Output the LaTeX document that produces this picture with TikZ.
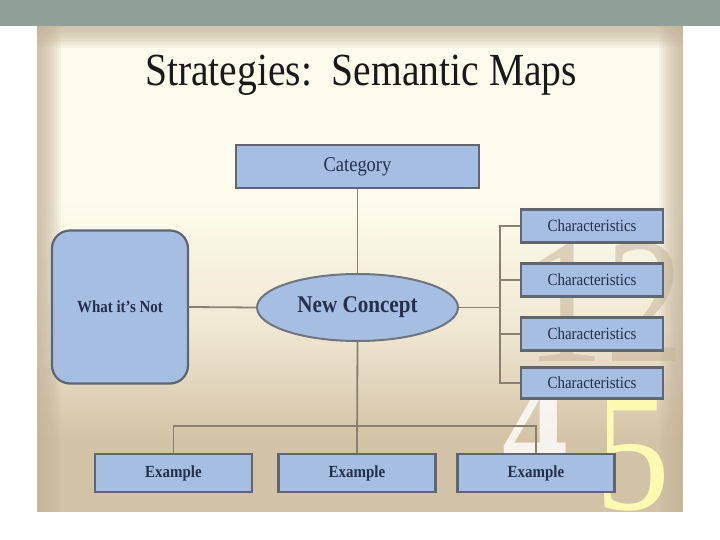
\documentclass[tikz,border=0pt]{standalone}
\usepackage{fontspec}
\setmainfont{Liberation Serif}
\usetikzlibrary{shapes.geometric,calc}
\definecolor{band}{HTML}{8FA096}
\definecolor{cream}{HTML}{FDFCEC}
\definecolor{midbeige}{HTML}{EFE7D2}
\definecolor{tan}{HTML}{D3C3A6}
\definecolor{edgetan}{HTML}{C4B49A}
\definecolor{boxfill}{HTML}{A6BEE2}
\definecolor{boxline}{HTML}{5F6670}
\definecolor{txt}{HTML}{24304C}
\definecolor{conn}{HTML}{8A8070}
\newcommand{\tx}[2]{\scalebox{0.88}[1]{\fontsize{#1}{#1}\selectfont #2}}
\tikzset{
  boxst/.style={rectangle, draw=boxline, line width=2.2pt, fill=boxfill, text=txt, inner sep=0pt},
  connst/.style={draw=conn, line width=1.8pt}
}
\begin{document}
\begin{tikzpicture}[x=1pt,y=-1pt]
\useasboundingbox (0,0) rectangle (720,540);
\fill[white] (0,0) rectangle (720,540);
\fill[band] (0,0) rectangle (720,26);
% panel
\fill[cream] (37,26) rectangle (683,200);
\shade[top color=cream, bottom color=midbeige] (37,199.5) rectangle (683,330);
\shade[top color=midbeige, bottom color=tan] (37,329.5) rectangle (683,440);
\fill[tan] (37,439.5) rectangle (683,512);
% edge vignettes
\foreach \i in {0,...,11}{
  \fill[edgetan, opacity=0.11] (37,26) rectangle ({37+2*\i+2},512);
  \fill[edgetan, opacity=0.11] ({683-2*\i-2},26) rectangle (683,512);
  \fill[edgetan, opacity=0.10] (37,26) rectangle (683,{26+1.8*\i+2});
}
% background numerals
\begin{scope}
\clip (37,26) rectangle (683,512);
\node[text=edgetan, opacity=0.55, anchor=center] (d12) at (605,302) {\tx{180}{12}};
\node[text=white, opacity=0.8, anchor=center] (d4) at (535,428) {\tx{150}{\bfseries 4}};
\node[text=yellow!25!cream, anchor=center] (d5) at (633,455) {\tx{170}{5}};
\end{scope}
% title
\node[text=black!90] (title) at (361,75) {\scalebox{0.86}[1]{\fontsize{46}{46}\selectfont Strategies:\ \ Semantic Maps}};
% nodes
\node[boxst, minimum width=243pt, minimum height=43pt] (cat) at (357.5,166.5) {\tx{21}{Category}};
\node[ellipse, draw=boxline!90, line width=2pt, fill=boxfill, text=txt, minimum width=201pt, minimum height=67pt, inner sep=0pt] (nc) at (357.5,307.5) {\tx{24}{\bfseries New Concept}};
\node[boxst, rounded corners=18pt, minimum width=136pt, minimum height=153pt] (not) at (120,307) {\tx{17}{\bfseries What it's Not}};
\node[boxst, minimum width=142pt, minimum height=33pt] (ch1) at (592,226) {\tx{17}{Characteristics}};
\node[boxst, minimum width=142pt, minimum height=33pt] (ch2) at (592,280) {\tx{17}{Characteristics}};
\node[boxst, minimum width=142pt, minimum height=33pt] (ch3) at (592,334) {\tx{17}{Characteristics}};
\node[boxst, minimum width=142pt, minimum height=31pt] (ch4) at (592,383) {\tx{17}{Characteristics}};
\node[boxst, minimum width=157pt, minimum height=38pt] (ex1) at (173.5,473) {\tx{17}{\bfseries Example}};
\node[boxst, minimum width=157pt, minimum height=38pt] (ex2) at (357,473) {\tx{17}{\bfseries Example}};
\node[boxst, minimum width=157pt, minimum height=38pt] (ex3) at (536,473) {\tx{17}{\bfseries Example}};
% connectors
\coordinate (hub) at (500,307.5);
\coordinate (bus) at (357,426);
\draw[connst] (cat.south) -- (nc.north);
\draw[connst] (not.east) -- (nc.west);
\draw[connst] (nc.east) -- (hub);
\foreach \k in {1,2,3,4}{ \draw[connst] (hub) |- (ch\k.west); }
\draw[connst] (nc.south) -- (ex2.north);
\draw[connst] (bus) -| (ex1.north);
\draw[connst] (bus) -| (ex3.north);
\end{tikzpicture}
\end{document}
